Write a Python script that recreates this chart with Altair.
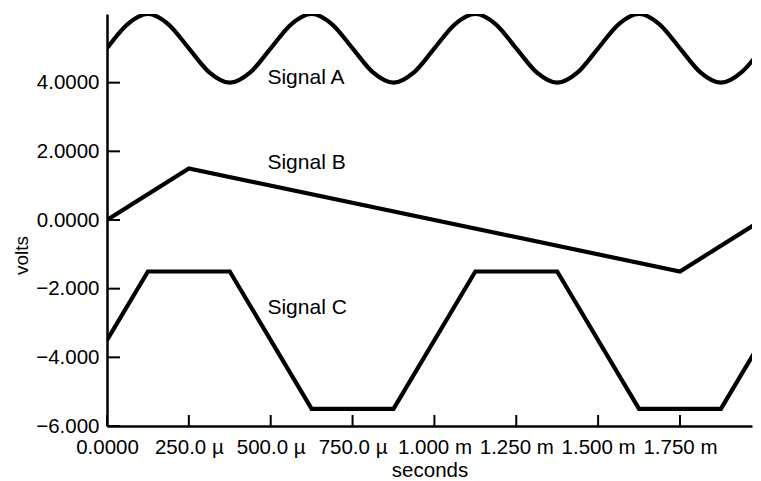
import altair as alt
import pandas as pd

# ---- data ----
# Signal A: smooth wave (values read every 62.5 µs)
a_time = [i * 0.0000625 for i in range(33)]
a_volts = [5.0, 5.7, 6.0, 5.7, 5.0, 4.3, 4.0, 4.3,
           5.0, 5.7, 6.0, 5.7, 5.0, 4.3, 4.0, 4.3,
           5.0, 5.7, 6.0, 5.7, 5.0, 4.3, 4.0, 4.3,
           5.0, 5.7, 6.0, 5.7, 5.0, 4.3, 4.0, 4.3, 5.0]
# Signal B: triangle
b_time = [0.0, 0.00025, 0.00175, 0.002]
b_volts = [0.0, 1.5, -1.5, 0.0]
# Signal C: trapezoid
c_time = [0.0, 0.000125, 0.000375, 0.000625, 0.000875, 0.001125,
          0.001375, 0.001625, 0.001875, 0.002]
c_volts = [-3.5, -1.5, -1.5, -5.5, -5.5, -1.5, -1.5, -5.5, -5.5, -3.5]

label_text = ["Signal A", "Signal B", "Signal C"]
label_x = [0.00049, 0.00049, 0.00049]
label_y = [4.14, 1.66, -2.56]

x_tick_values = [0.0, 0.00025, 0.0005, 0.00075, 0.001, 0.00125, 0.0015, 0.00175]
x_tick_labels = ["0.0000", "250.0 µ", "500.0 µ", "750.0 µ",
                 "1.000 m", "1.250 m", "1.500 m", "1.750 m"]
y_tick_values = [-6, -4, -2, 0, 2, 4]
y_tick_labels = ["−6.000", "−4.000", "−2.000", "0.0000", "2.0000", "4.0000"]

# ---- tables ----
a_df = pd.DataFrame({"time": a_time, "volts": a_volts, "signal": "A"})
bc_df = pd.concat([
    pd.DataFrame({"time": b_time, "volts": b_volts, "signal": "B"}),
    pd.DataFrame({"time": c_time, "volts": c_volts, "signal": "C"}),
])
labels = pd.DataFrame({"text": label_text, "time": label_x, "volts": label_y})
xticks = pd.DataFrame({"time": x_tick_values})
yticks = pd.DataFrame({"volts": y_tick_values})

W, H = 645, 412
FONT = "Liberation Sans"

x_lbl_expr = "[" + ",".join('"%s"' % s for s in x_tick_labels) + "][round(datum.value / 0.00025)]"
y_lbl_expr = "[" + ",".join('"%s"' % s for s in y_tick_labels) + "][round((datum.value + 6) / 2)]"

xscale = alt.Scale(domain=[0, 0.00197], nice=False, zero=False)
yscale = alt.Scale(domain=[-6, 6], nice=False, zero=False)

xaxis = alt.Axis(values=x_tick_values, labelExpr=x_lbl_expr, ticks=False, grid=False,
                 labelPadding=11, labelFlush=False, labelOverlap=False,
                 labelFont=FONT, labelFontSize=20.5, labelColor="black",
                 domainColor="black", domainWidth=2.5,
                 title="seconds", titleFont=FONT, titleFontSize=20.5,
                 titleFontWeight="normal", titleColor="black", titlePadding=3)
yaxis = alt.Axis(values=y_tick_values, labelExpr=y_lbl_expr, ticks=False, grid=False,
                 labelPadding=8, labelFont=FONT, labelFontSize=20.5, labelColor="black",
                 domainColor="black", domainWidth=2.5,
                 title="volts", titleFont=FONT, titleFontSize=19,
                 titleFontWeight="normal", titleColor="black",
                 titleAnchor="start", titleX=-80, titleY=241, titleAngle=-90,
                 titleAlign="center", titleBaseline="alphabetic")

X = alt.X("time:Q", scale=xscale, axis=xaxis)
Y = alt.Y("volts:Q", scale=yscale, axis=yaxis)

line_a = alt.Chart(a_df).mark_line(color="black", strokeWidth=4.2, clip=True,
                                   interpolate="monotone").encode(x=X, y=Y)
line_bc = alt.Chart(bc_df).mark_line(color="black", strokeWidth=4.2, clip=True,
                                     strokeJoin="miter").encode(x=X, y=Y, detail="signal:N")

text_layer = alt.Chart(labels).mark_text(align="left", baseline="middle", font=FONT,
                                         fontSize=21, color="black").encode(
    x=X, y=Y, text="text:N")

xtick_layer = alt.Chart(xticks).mark_rule(color="black", strokeWidth=2).encode(
    x=X, y=alt.value(H), y2=alt.value(H - 11))
ytick_layer = alt.Chart(yticks).mark_rule(color="black", strokeWidth=2).encode(
    y=Y, x=alt.value(0), x2=alt.value(13))

chart = alt.layer(line_a, line_bc, text_layer, xtick_layer, ytick_layer).properties(
    width=W, height=H,
    padding={"left": 99, "top": 6, "right": 1, "bottom": 54},
    autosize=alt.AutoSizeParams(type="none"),
).configure(background="white").configure_view(stroke=None)

chart.save("out.html", embed_options={"renderer": "svg", "actions": False})
